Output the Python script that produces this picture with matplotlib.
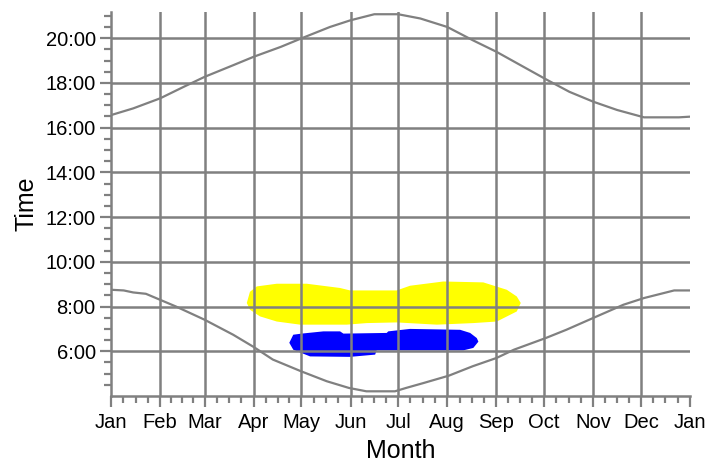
import matplotlib
matplotlib.use("Agg")
import matplotlib.pyplot as plt
from matplotlib.ticker import FixedLocator, FuncFormatter
import numpy as np

# calendar: day-of-year where each month starts, plus the final Jan
month_starts = [0, 31, 59, 90, 120, 151, 181, 212, 243, 273, 304, 334, 365]
month_labels = ["Jan", "Feb", "Mar", "Apr", "May", "Jun", "Jul",
                "Aug", "Sep", "Oct", "Nov", "Dec", "Jan"]

# sunrise (hours)
sunrise_day = [0, 8, 14, 22, 31, 41, 59, 77, 90, 102, 120, 136, 150, 161,
               179, 186, 197, 213, 228, 243, 254, 274, 287, 304, 323, 336, 355, 365]
sunrise_hr = [8.75, 8.72, 8.63, 8.57, 8.30, 8.00, 7.41, 6.74, 6.19, 5.63, 5.10, 4.66,
              4.36, 4.21, 4.21, 4.36, 4.58, 4.91, 5.33, 5.70, 6.07, 6.59, 6.96,
              7.49, 8.08, 8.38, 8.72, 8.72]

# sunset (hours)
sunset_day = [0, 14, 31, 46, 59, 77, 90, 107, 120, 138, 151, 166, 181, 195,
              212, 228, 243, 260, 275, 289, 304, 319, 336, 358, 365]
sunset_hr = [16.56, 16.86, 17.31, 17.83, 18.27, 18.79, 19.17, 19.61, 19.99, 20.50,
             20.80, 21.07, 21.07, 20.88, 20.50, 19.91, 19.39, 18.72, 18.13, 17.60,
             17.16, 16.79, 16.46, 16.46, 16.49]

# yellow region outline (day, hour)
yellow_day = [85.6, 87.6, 91.9, 104.5, 123.4, 144.4, 150.7, 180.1, 188.5, 209.5,
              234.7, 249.5, 255.8, 258.3, 255.8, 243.2, 228.4, 205.4, 180.1, 161.2,
              148.6, 119.2, 104.5, 93.9, 87.6]
yellow_hr = [8.16, 8.66, 8.90, 9.02, 9.02, 8.83, 8.72, 8.72, 8.93, 9.12,
             9.08, 8.75, 8.45, 8.16, 7.78, 7.33, 7.26, 7.19, 7.29, 7.26,
             7.19, 7.19, 7.33, 7.56, 7.86]

# blue region outline (day, hour)
blue_day = [112.4, 114.9, 120.2, 133.9, 144.4, 146.5, 173.8, 174.8, 188.5, 220.1,
            226.4, 230.6, 231.6, 228.4, 222.1, 167.5, 166.5, 150.7, 125.5, 120.2, 114.9]
blue_hr = [6.38, 6.74, 6.79, 6.89, 6.89, 6.79, 6.82, 6.89, 7.00, 6.96,
           6.82, 6.59, 6.43, 6.15, 6.04, 6.04, 5.85, 5.75, 5.77, 5.92, 6.07]

GRAY = "#808080"
plt.rcParams['font.family'] = ['Liberation Sans', 'DejaVu Sans']

fig = plt.figure(figsize=(7.08, 4.63), dpi=100)
ax = fig.add_axes([111 / 708, 67 / 463, 579 / 708, 384 / 463])

ax.fill(yellow_day, yellow_hr, color="#FFFF00", lw=0, zorder=0.3)
ax.fill(blue_day, blue_hr, color="#0000FF", lw=0, zorder=0.3)
ax.plot(sunset_day, sunset_hr, color=GRAY, lw=1.6, zorder=2)
ax.plot(sunrise_day, sunrise_hr, color=GRAY, lw=1.6, zorder=2)

ax.set_xlim(0, 365)
ax.set_ylim(4, 21.17)

# x ticks: month starts, minor at quarter months
ax.xaxis.set_major_locator(FixedLocator(month_starts))
ax.set_xticklabels(month_labels)
minor_x = []
for a, b in zip(month_starts[:-1], month_starts[1:]):
    minor_x += [a + (b - a) * k / 4 for k in (1, 2, 3)]
ax.xaxis.set_minor_locator(FixedLocator(minor_x))

# y ticks: every 2 h labelled, minor every half hour
major_y = list(range(6, 21, 2))
ax.yaxis.set_major_locator(FixedLocator(major_y))
ax.yaxis.set_major_formatter(FuncFormatter(lambda v, p: "%d:00" % v))
minor_y = [v for v in np.arange(4.5, 21.01, 0.5) if v not in major_y]
ax.yaxis.set_minor_locator(FixedLocator(minor_y))

ax.tick_params(which="major", length=8, width=1.6, color=GRAY, labelsize=14.5)
ax.tick_params(which="minor", length=5, width=1.6, color=GRAY)
ax.tick_params(axis="x", which="major", pad=4)
ax.tick_params(axis="y", which="major", pad=3)

ax.set_axisbelow(True)
ax.grid(True, which="major", color=GRAY, lw=1.8)
ax.xaxis.get_gridlines()[0].set_visible(False)
ax.xaxis.get_gridlines()[-1].set_visible(False)

for side in ("top", "right"):
    ax.spines[side].set_visible(False)
for side in ("left", "bottom"):
    ax.spines[side].set_color(GRAY)
    ax.spines[side].set_linewidth(1.8)

ax.set_xlabel("Month", fontsize=18, labelpad=5)
ax.set_ylabel("Time", fontsize=18, labelpad=5)

fig.savefig("out.png", dpi=100)
